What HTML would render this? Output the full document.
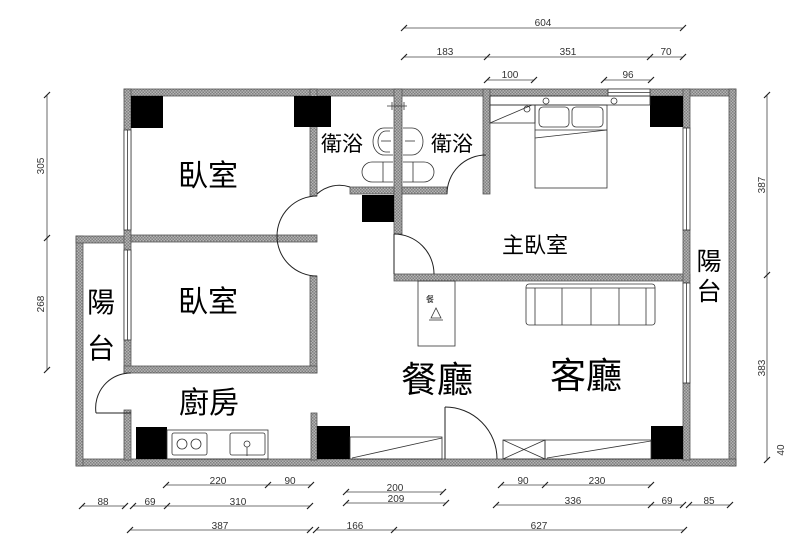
<!DOCTYPE html>
<html><head><meta charset="utf-8"><style>
html,body{margin:0;padding:0;background:#fff;}
svg{display:block;}
.w{fill:#a8a8a8;stroke:#555;stroke-width:0.8;}
.p{fill:#000;}
.l{fill:none;stroke:#222;stroke-width:1;}
.d{fill:none;stroke:#333;stroke-width:0.8;}
.t{font-family:"Liberation Sans","Noto Sans CJK TC",sans-serif;fill:#000;}
.n{font-family:"Liberation Sans",sans-serif;font-size:10px;fill:#333;text-anchor:middle;}
</style></head><body>
<svg width="800" height="547" viewBox="0 0 800 547" xmlns="http://www.w3.org/2000/svg">
<defs>
<pattern id="h" width="3" height="3" patternUnits="userSpaceOnUse">
<rect width="3" height="3" fill="#b4b4b4"/><rect width="1.5" height="1.5" fill="#808080"/><rect x="1.5" y="1.5" width="1.5" height="1.5" fill="#808080"/>
</pattern>
</defs>
<g style="fill:url(#h);stroke:#555;stroke-width:0.8">
<!-- outer walls -->
<rect x="124" y="89" width="612" height="7"/>
<rect x="729" y="89" width="7" height="377"/>
<rect x="76" y="459" width="660" height="7"/>
<rect x="76" y="236" width="7" height="230"/>
<rect x="76" y="236" width="55" height="7"/>
<rect x="124" y="89" width="7" height="284"/>
<rect x="124" y="410" width="7" height="50"/>
<!-- bedroom walls -->
<rect x="310" y="89" width="7" height="107"/>
<rect x="131" y="235" width="186" height="7"/>
<rect x="310" y="276" width="7" height="97"/>
<rect x="124" y="366" width="193" height="7"/>
<rect x="311" y="413" width="6" height="47"/>
<!-- baths -->
<rect x="394" y="89" width="8" height="145"/>
<rect x="350" y="187" width="44" height="7"/>
<rect x="402" y="187" width="45" height="7"/>
<rect x="483" y="89" width="7" height="105"/>
<!-- master -->
<rect x="394" y="274" width="296" height="7"/>
<rect x="683" y="89" width="7" height="39"/>
<rect x="683" y="230" width="7" height="53"/>
<rect x="683" y="383" width="7" height="77"/>
</g>
<!-- windows -->
<g class="d" fill="#fff">
<rect x="683" y="128" width="7" height="102" fill="#fff"/>
<line x1="686.5" y1="128" x2="686.5" y2="230"/>
<rect x="683" y="283" width="7" height="100" fill="#fff"/>
<line x1="686.5" y1="283" x2="686.5" y2="383"/>
<rect x="124" y="130" width="7" height="100" fill="#fff"/>
<line x1="127.5" y1="130" x2="127.5" y2="230"/>
<rect x="124" y="250" width="7" height="90" fill="#fff"/>
<line x1="127.5" y1="250" x2="127.5" y2="340"/>
<rect x="608" y="89" width="42" height="7" fill="#fff"/>
<line x1="608" y1="92.5" x2="650" y2="92.5"/>
</g>
<!-- pillars -->
<rect class="p" x="131" y="96" width="32" height="32"/>
<rect class="p" x="294" y="96" width="37" height="31"/>
<rect class="p" x="362" y="195" width="32" height="27"/>
<rect class="p" x="650" y="96" width="33" height="31"/>
<rect class="p" x="136" y="427" width="31" height="32"/>
<rect class="p" x="317" y="426" width="33" height="33"/>
<rect class="p" x="651" y="426" width="32" height="33"/>
<!-- doors -->
<g class="l">
<path d="M317,196 A40,40 0 0,0 277,236 A40,40 0 0,0 317,276"/>
<path d="M317,194 A33,33 0 0,1 350,187"/>
<path d="M447,194 A39,39 0 0,1 486,155"/>
<line x1="394" y1="234" x2="394" y2="274"/>
<path d="M394,234 A40,40 0 0,1 434,274"/>
<line x1="96" y1="413" x2="131" y2="413"/>
<path d="M96,413 A35,35 0 0,1 131,373"/>
<line x1="445" y1="407" x2="445" y2="459"/>
<path d="M445,407 A52,52 0 0,1 497,459"/>
</g>
<!-- bath fixtures -->
<g class="d">
<path d="M393,128 H384 A11,13.5 0 0,0 384,155 H393"/>
<path d="M390,131 H386 A8,10.5 0 0,0 386,152 H390"/>
<line x1="381" y1="141" x2="391" y2="141"/>
<path d="M403,128 H412 A11,13.5 0 0,1 412,155 H403"/>
<line x1="405" y1="141" x2="415" y2="141"/>
<path d="M393,162 H372 A10,10 0 0,0 372,182 H393"/>
<line x1="383" y1="162" x2="383" y2="182"/>
<path d="M403,162 H424 A10,10 0 0,1 424,182 H403"/>
<line x1="413" y1="162" x2="413" y2="182"/>
<line x1="387" y1="106" x2="407" y2="106"/><line x1="392" y1="102" x2="392" y2="110"/><line x1="404" y1="102" x2="404" y2="110"/>
</g>
<!-- master bed -->
<g class="d">
<rect x="490" y="96" width="160" height="9" fill="none"/>
<rect x="490" y="105" width="45" height="18"/>
<line x1="490" y1="123" x2="532" y2="105"/>
<circle cx="527" cy="109" r="3"/>
<circle cx="546" cy="101" r="3"/>
<circle cx="614" cy="101" r="3"/>
<rect x="535" y="105" width="72" height="83"/>
<rect x="539" y="107" width="30" height="20" rx="4"/>
<rect x="572" y="107" width="31" height="20" rx="4"/>
<line x1="535" y1="130" x2="607" y2="130"/>
<line x1="535" y1="138" x2="607" y2="130"/>
<!-- sofa -->
<rect x="526" y="284" width="129" height="41" rx="3"/>
<line x1="535" y1="288" x2="535" y2="325"/>
<line x1="562" y1="288" x2="562" y2="325"/>
<line x1="591" y1="288" x2="591" y2="325"/>
<line x1="619" y1="288" x2="619" y2="325"/>
<line x1="646" y1="288" x2="646" y2="325"/>
<line x1="526" y1="288" x2="655" y2="288"/>
<!-- dining table -->
<rect x="418" y="281" width="37" height="65"/>
<path d="M431,318 L436,308 L441,318 Z"/>
<line x1="429" y1="320" x2="443" y2="320"/>
<!-- kitchen counter -->
<rect x="167" y="430" width="101" height="29"/>
<rect x="172" y="433" width="35" height="22" rx="2"/>
<circle cx="182" cy="444" r="5"/><circle cx="196" cy="444" r="5"/>
<rect x="230" y="433" width="35" height="22" rx="2"/>
<circle cx="247" cy="444" r="3"/><line x1="247" y1="447" x2="247" y2="456"/>
<!-- dining counter -->
<rect x="350" y="437" width="92" height="22"/>
<line x1="352" y1="458" x2="442" y2="438"/>
<!-- tv -->
<rect x="503" y="440" width="42" height="19"/>
<line x1="503" y1="440" x2="545" y2="459"/><line x1="545" y1="440" x2="503" y2="459"/>
<rect x="545" y="440" width="106" height="19"/>
<line x1="547" y1="458" x2="651" y2="441"/>
</g>
<text class="t" x="430" y="302" font-size="8" text-anchor="middle" fill="#555">餐</text>
<!-- labels -->
<g class="t">
<text x="208" y="186" font-size="30" text-anchor="middle">臥室</text>
<text x="342" y="151" font-size="21" text-anchor="middle">衛浴</text>
<text x="452" y="151" font-size="21" text-anchor="middle">衛浴</text>
<text x="535" y="253" font-size="22" text-anchor="middle">主臥室</text>
<text x="709" y="270" font-size="25" text-anchor="middle">陽</text>
<text x="709" y="300" font-size="25" text-anchor="middle">台</text>
<text x="101" y="312" font-size="28" text-anchor="middle">陽</text>
<text x="101" y="358" font-size="28" text-anchor="middle">台</text>
<text x="208" y="312" font-size="30" text-anchor="middle">臥室</text>
<text x="209" y="413" font-size="30" text-anchor="middle">廚房</text>
<text x="437" y="392" font-size="36" text-anchor="middle">餐廳</text>
<text x="586" y="388" font-size="36" text-anchor="middle">客廳</text>
</g>
<!-- dimensions -->
<g stroke="#444" stroke-width="0.8" fill="none">
<line x1="404" y1="28" x2="683" y2="28"/>
<line x1="404" y1="57" x2="683" y2="57"/>
<line x1="487" y1="80" x2="534" y2="80"/>
<line x1="604" y1="80" x2="651" y2="80"/>
<line x1="47" y1="95" x2="47" y2="370"/>
<line x1="767" y1="95" x2="767" y2="460"/>
<line x1="166" y1="485" x2="311" y2="485"/>
<line x1="346" y1="492" x2="443" y2="492"/>
<line x1="501" y1="485" x2="651" y2="485"/>
<line x1="82" y1="506" x2="125" y2="506"/>
<line x1="133" y1="506" x2="310" y2="506"/>
<line x1="346" y1="503" x2="446" y2="503"/>
<line x1="496" y1="505" x2="651" y2="505"/>
<line x1="651" y1="505" x2="683" y2="505"/>
<line x1="689" y1="505" x2="730" y2="505"/>
<line x1="130" y1="530" x2="310" y2="530"/>
<line x1="316" y1="530" x2="394" y2="530"/>
<line x1="394" y1="530" x2="684" y2="530"/>
<g stroke="#222" stroke-width="1.2">
<path d="M401,31 l6,-6 M680,31 l6,-6 M401,60 l6,-6 M484,60 l6,-6 M647,60 l6,-6 M680,60 l6,-6 M484,83 l6,-6 M531,83 l6,-6 M601,83 l6,-6 M648,83 l6,-6"/>
<path d="M44,98 l6,-6 M44,241 l6,-6 M44,373 l6,-6 M764,98 l6,-6 M764,278 l6,-6 M764,463 l6,-6"/>
<path d="M163,488 l6,-6 M265,488 l6,-6 M308,488 l6,-6 M343,495 l6,-6 M440,495 l6,-6 M498,488 l6,-6 M542,488 l6,-6 M648,488 l6,-6"/>
<path d="M79,509 l6,-6 M122,509 l6,-6 M130,509 l6,-6 M164,509 l6,-6 M307,509 l6,-6 M343,506 l6,-6 M443,506 l6,-6 M493,508 l6,-6 M648,508 l6,-6 M680,508 l6,-6 M686,508 l6,-6 M727,508 l6,-6"/>
<path d="M127,533 l6,-6 M307,533 l6,-6 M313,533 l6,-6 M391,533 l6,-6 M681,533 l6,-6"/>
</g>
</g>
<g class="n">
<text x="543" y="26">604</text>
<text x="445" y="55">183</text>
<text x="568" y="55">351</text>
<text x="666" y="55">70</text>
<text x="510" y="78">100</text>
<text x="628" y="78">96</text>
<text x="218" y="484">220</text>
<text x="290" y="484">90</text>
<text x="395" y="491">200</text>
<text x="523" y="484">90</text>
<text x="597" y="484">230</text>
<text x="103" y="505">88</text>
<text x="150" y="505">69</text>
<text x="238" y="505">310</text>
<text x="396" y="502">209</text>
<text x="573" y="504">336</text>
<text x="667" y="504">69</text>
<text x="709" y="504">85</text>
<text x="220" y="529">387</text>
<text x="355" y="529">166</text>
<text x="539" y="529">627</text>
<text transform="translate(44,166) rotate(-90)">305</text>
<text transform="translate(44,304) rotate(-90)">268</text>
<text transform="translate(765,185) rotate(-90)">387</text>
<text transform="translate(765,368) rotate(-90)">383</text>
<text transform="translate(784,450) rotate(-90)">40</text>
</g>
</svg>
</body></html>
